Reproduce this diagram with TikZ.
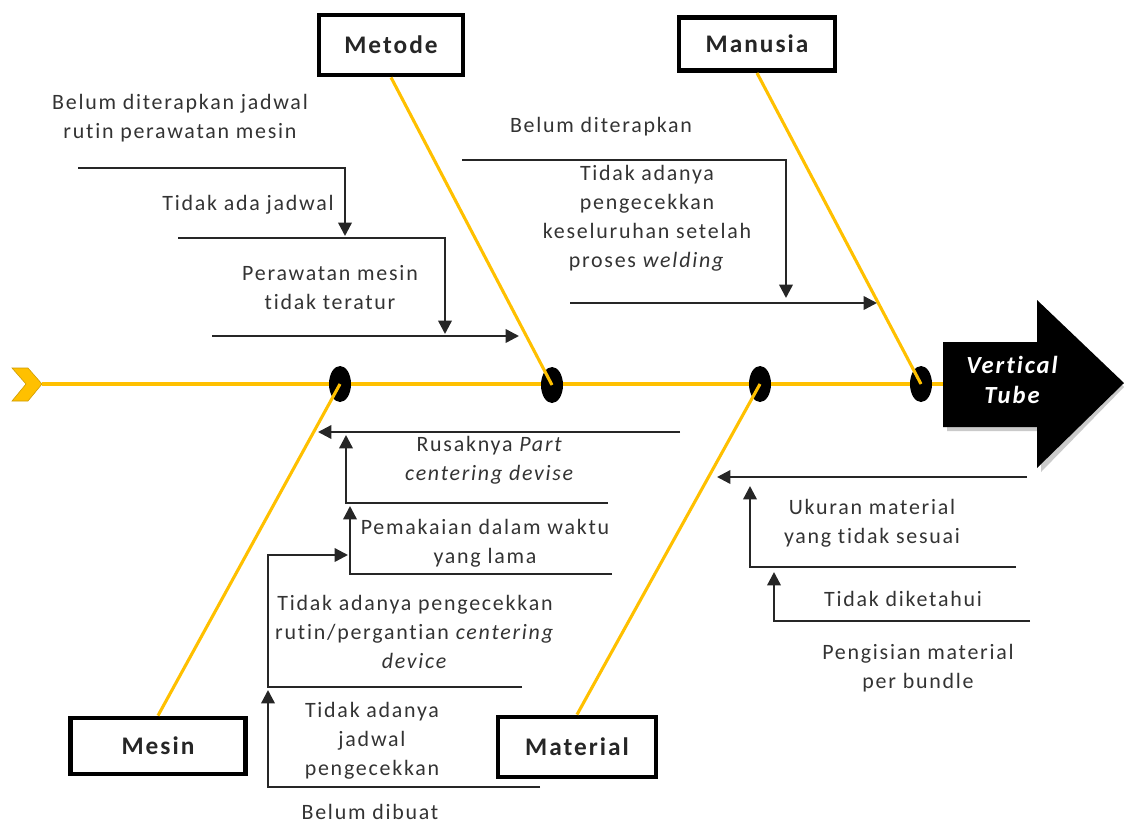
\documentclass[tikz,border=0pt]{standalone}
\usepackage{fontspec}
\setmainfont{Carlito}[LetterSpace=8, Ligatures=NoCommon]
\usetikzlibrary{arrows.meta, shapes.geometric}
\definecolor{spine}{HTML}{FFC000}

\begin{document}
\begin{tikzpicture}[x=0.025cm, y=-0.025cm,
  catbox/.style={draw, line width=3.4pt, minimum width=3.6cm, minimum height=1.5cm,
                 font=\fontsize{18}{20}\selectfont\bfseries, text=black!85},
  cause/.style={align=center, inner sep=1pt, font=\fontsize{15.6}{20.6}\selectfont, text=black!80},
  bonelink/.style={draw=spine, line width=2.2pt},
  joint/.style={ellipse, fill=black, minimum width=0.55cm, minimum height=0.9cm, inner sep=0pt},
  arr/.style={draw=black!85, line width=1.7pt, -{Triangle[length=9.5pt, width=9.5pt]}}
]
\useasboundingbox (0,0) rectangle (1124,823);

% Effect arrow and tail chevron
\fill[black!35, opacity=.6] (947,346) -- (1041,346) -- (1041,304) -- (1124,387) -- (1041,472) -- (1041,431) -- (947,431) -- cycle;
\fill[black] (943,342) -- (1037,342) -- (1037,300) -- (1124,383) -- (1037,468) -- (1037,427) -- (943,427) -- cycle;
\node[font=\fontsize{17.5}{21}\selectfont\bfseries\itshape, text=white, align=center] (effect) at (1012,380) {Vertical\\Tube};
\fill[spine, draw=spine!80!black, line width=0.4pt] (12,368) -- (28,368) -- (42,384) -- (28,401) -- (12,401) -- (26,384) -- cycle;
\coordinate (tail) at (42,384);
\coordinate (head) at (943,384);
\draw[bonelink] (tail) -- (head);

% Category boxes
\node[catbox] (metode) at (391,45) {Metode};
\node[catbox, minimum width=3.9cm, minimum height=1.33cm] (manusia) at (757,44) {Manusia};
\node[catbox, minimum width=4.38cm, minimum height=1.4cm] (mesin) at (158,746) {Mesin};
\node[catbox, minimum width=3.95cm] (material) at (577,747) {Material};

% Joints on the spine
\node[joint] (d1) at (340,384) {};
\node[joint] (d2) at (552,385) {};
\node[joint] (d3) at (760,384) {};
\node[joint] (d4) at (921,384) {};
\draw[bonelink] (metode.south) -- (d2.center);
\draw[bonelink] (manusia.south) -- (d4.center);
\draw[bonelink] (mesin.north) -- (d1.center);
\draw[bonelink] (material.north) -- (d3.center);

% Causes - Metode
\node[cause] (c1) at (180,118) {Belum diterapkan jadwal\\rutin perawatan mesin};
\node[cause] (c2) at (248,205) {Tidak ada jadwal};
\node[cause] (c3) at (330,288) {Perawatan mesin\\tidak teratur};
\coordinate (m1a) at (78,168);  \coordinate (m1b) at (345,168); \coordinate (m1c) at (345,236);
\coordinate (m2a) at (178,238); \coordinate (m2b) at (445,238); \coordinate (m2c) at (445,334);
\coordinate (m3a) at (212,336); \coordinate (m3b) at (519,336);
\draw[arr] (m1a) -- (m1b) -- (m1c);
\draw[arr] (m2a) -- (m2b) -- (m2c);
\draw[arr] (m3a) -- (m3b);

% Causes - Manusia
\node[cause] (c4) at (601,127) {Belum diterapkan};
\node[cause] (c5) at (647,218) {Tidak adanya\\pengecekkan\\keseluruhan setelah\\proses \textit{welding}};
\coordinate (u1a) at (462,160); \coordinate (u1b) at (786,160); \coordinate (u1c) at (786,298);
\coordinate (u2a) at (570,303); \coordinate (u2b) at (877,303);
\draw[arr] (u1a) -- (u1b) -- (u1c);
\draw[arr] (u2a) -- (u2b);

% Causes - Mesin
\node[cause] (c6) at (490,460) {Rusaknya \textit{Part}\\\textit{centering devise}};
\node[cause] (c7) at (485,543) {Pemakaian dalam waktu\\yang lama};
\node[cause] (c8) at (415,632) {Tidak adanya pengecekkan\\rutin/pergantian \textit{centering}\\\textit{device}};
\node[cause] (c9) at (372,741) {Tidak adanya\\jadwal\\pengecekkan};
\node[cause] (c10) at (370,812) {Belum dibuat};
\coordinate (s1a) at (680,432); \coordinate (s1b) at (318,432);
\coordinate (s2a) at (608,503); \coordinate (s2b) at (346,503); \coordinate (s2c) at (346,435);
\coordinate (s3a) at (612,574); \coordinate (s3b) at (350,574); \coordinate (s3c) at (350,506);
\coordinate (s4a) at (522,687); \coordinate (s4b) at (268,687); \coordinate (s4c) at (268,555); \coordinate (s4d) at (348,555);
\coordinate (s5a) at (540,787); \coordinate (s5b) at (268,787); \coordinate (s5c) at (268,690);
\draw[arr] (s1a) -- (s1b);
\draw[arr] (s2a) -- (s2b) -- (s2c);
\draw[arr] (s3a) -- (s3b) -- (s3c);
\draw[arr] (s4a) -- (s4b) -- (s4c) -- (s4d);
\draw[arr] (s5a) -- (s5b) -- (s5c);

% Causes - Material
\node[cause] (c11) at (872,523) {Ukuran material\\yang tidak sesuai};
\node[cause] (c12) at (903,599) {Tidak diketahui};
\node[cause] (c13) at (918,668) {Pengisian material\\per bundle};
\coordinate (t1a) at (1027,477); \coordinate (t1b) at (717,477);
\coordinate (t2a) at (1016,567); \coordinate (t2b) at (750,567); \coordinate (t2c) at (750,486);
\coordinate (t3a) at (1030,621); \coordinate (t3b) at (774,621); \coordinate (t3c) at (774,572);
\draw[arr] (t1a) -- (t1b);
\draw[arr] (t2a) -- (t2b) -- (t2c);
\draw[arr] (t3a) -- (t3b) -- (t3c);
\end{tikzpicture}
\end{document}
